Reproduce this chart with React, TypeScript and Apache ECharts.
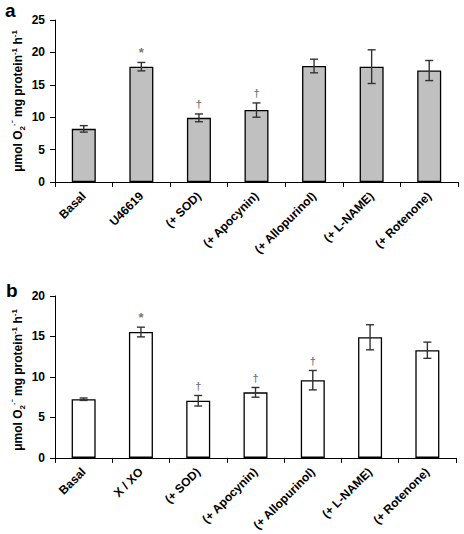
import React, { useEffect, useRef } from "react";
import * as echarts from "echarts";

const categoriesA = ["Basal", "U46619", "(+ SOD)", "(+ Apocynin)", "(+ Allopurinol)", "(+ L-NAME)", "(+ Rotenone)"];
const valuesA = [8.2, 17.8, 9.9, 11.1, 17.9, 17.8, 17.2];
const errorsA = [0.5, 0.65, 0.6, 1.1, 1.05, 2.6, 1.55];
const marksA = ["", "*", "†", "†", "", "", ""];

const categoriesB = ["Basal", "X / XO", "(+ SOD)", "(+ Apocynin)", "(+ Allopurinol)", "(+ L-NAME)", "(+ Rotenone)"];
const valuesB = [7.25, 15.55, 7.06, 8.1, 9.6, 14.9, 13.3];
const errorsB = [0.15, 0.6, 0.65, 0.6, 1.2, 1.55, 1.0];
const marksB = ["", "*", "†", "†", "†", "", ""];

const yTicksA = { min: 0, max: 25, interval: 5 };
const yTicksB = { min: 0, max: 20, interval: 5 };

const FONT = "Liberation Sans";

function errorSeries(values: number[], errors: number[], marks: string[], axisIndex: number) {
  return {
    type: "custom",
    xAxisIndex: axisIndex,
    yAxisIndex: axisIndex,
    z: 5,
    data: values.map((v, i) => [i, v, errors[i]]),
    renderItem: (params: any, api: any) => {
      const i = api.value(0);
      const v = api.value(1);
      const e = api.value(2);
      const top = api.coord([i, v + e]);
      const bot = api.coord([i, v - e]);
      const cap = 4;
      const ls = { stroke: "#333", lineWidth: 1.4 };
      const children: any[] = [
        { type: "line", shape: { x1: top[0], y1: top[1], x2: bot[0], y2: bot[1] }, style: ls },
        { type: "line", shape: { x1: top[0] - cap, y1: top[1], x2: top[0] + cap, y2: top[1] }, style: ls },
        { type: "line", shape: { x1: bot[0] - cap, y1: bot[1], x2: bot[0] + cap, y2: bot[1] }, style: ls },
      ];
      const m = marks[params.dataIndex];
      if (m) {
        children.push({
          type: "text",
          x: top[0],
          y: top[1] - (m === "*" ? 3 : 4),
          style: {
            text: m,
            fill: "#777",
            font: `bold ${m === "*" ? 13 : 11}px '${FONT}'`,
            align: "center",
            verticalAlign: "bottom",
          },
        });
      }
      return { type: "group", children };
    },
  };
}

function yLabel(x: number, y: number) {
  return {
    type: "text",
    x,
    y,
    rotation: Math.PI / 2,
    style: {
      text: "{n|μmol O}{sub|2}{sup|·⁻}{n| mg protein}{sup|-1}{n| h}{sup|-1}",
      align: "center",
      verticalAlign: "middle",
      fill: "#000",
      rich: {
        n: { fontFamily: FONT, fontWeight: "bold", fontSize: 12, lineHeight: 16, verticalAlign: "middle", fill: "#000" },
        sub: { fontFamily: FONT, fontWeight: "bold", fontSize: 8, lineHeight: 16, verticalAlign: "bottom", fill: "#000" },
        sup: { fontFamily: FONT, fontWeight: "bold", fontSize: 8, lineHeight: 16, verticalAlign: "top", fill: "#000" },
      },
    },
  };
}

export default function App() {
  const ref = useRef<HTMLDivElement>(null);
  useEffect(() => {
    document.body.style.margin = "0";
    const chart = echarts.init(ref.current!, null, { renderer: "svg" });
    const xAxisBase = {
      type: "category",
      boundaryGap: true,
      axisLine: { lineStyle: { color: "#000", width: 1 } },
      axisTick: { show: true, length: 5, lineStyle: { color: "#000" } },
      axisLabel: {
        interval: 0,
        rotate: 45,
        margin: 12,
        color: "#000",
        fontFamily: FONT,
        fontWeight: "bold",
        fontSize: 12,
      },
    };
    const yAxisBase = {
      type: "value",
      axisLine: { show: true, lineStyle: { color: "#000", width: 1 } },
      axisTick: { show: true, length: 5, lineStyle: { color: "#000" } },
      splitLine: { show: false },
      axisLabel: { color: "#000", fontFamily: FONT, fontWeight: "bold", fontSize: 12, margin: 10 },
    };
    chart.setOption({
      animation: false,
      backgroundColor: "#fff",
      grid: [
        { left: 55, top: 20, right: 6, height: 162 },
        { left: 55, top: 296, right: 8, height: 163 },
      ],
      xAxis: [
        { ...xAxisBase, gridIndex: 0, data: categoriesA },
        { ...xAxisBase, gridIndex: 1, data: categoriesB },
      ],
      yAxis: [
        { ...yAxisBase, gridIndex: 0, ...yTicksA },
        { ...yAxisBase, gridIndex: 1, ...yTicksB },
      ],
      series: [
        {
          type: "bar",
          xAxisIndex: 0,
          yAxisIndex: 0,
          data: valuesA,
          barWidth: 24,
          itemStyle: { color: "#c0c0c0", borderColor: "#000", borderWidth: 1.3 },
        },
        errorSeries(valuesA, errorsA, marksA, 0),
        {
          type: "bar",
          xAxisIndex: 1,
          yAxisIndex: 1,
          data: valuesB,
          barWidth: 24,
          itemStyle: { color: "#fff", borderColor: "#000", borderWidth: 1.3 },
        },
        errorSeries(valuesB, errorsB, marksB, 1),
      ],
      graphic: [
        { type: "text", left: 5, top: 1, style: { text: "a", font: `bold 19px '${FONT}'`, fill: "#000" } },
        { type: "text", left: 6, top: 281, style: { text: "b", font: `bold 19px '${FONT}'`, fill: "#000" } },
        yLabel(18, 101),
        yLabel(18, 380),
      ],
    });
    return () => chart.dispose();
  }, []);
  return <div ref={ref} style={{ width: 464, height: 534 }} />;
}
